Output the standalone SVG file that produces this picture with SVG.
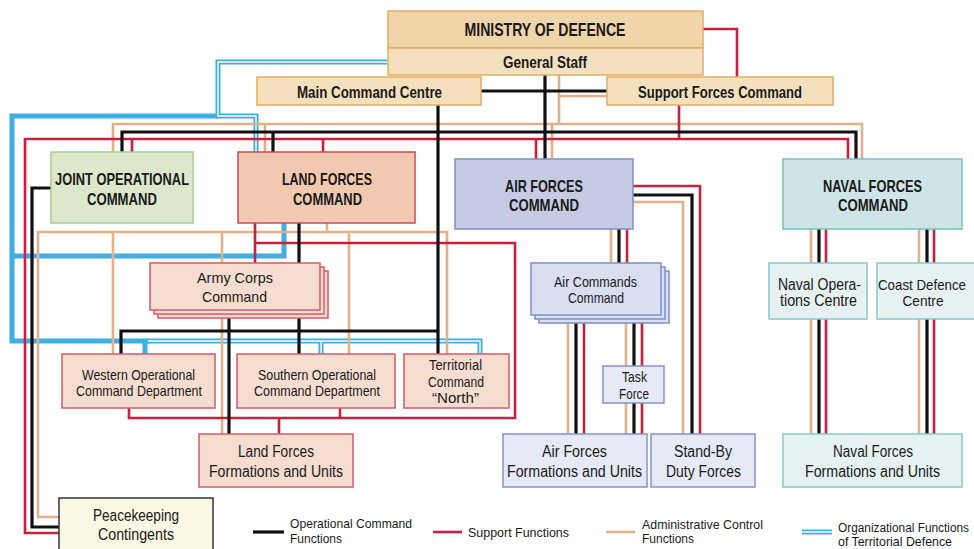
<svg xmlns="http://www.w3.org/2000/svg" width="974" height="549" viewBox="0 0 974 549">
<style>
text{font-family:"Liberation Sans Narrow","Liberation Sans",Arial,sans-serif;fill:#1a1a1a;text-anchor:middle}
.b{font-weight:bold}
.lg{text-anchor:start;font-size:13.5px}
path{fill:none;stroke-linejoin:miter;stroke-linecap:butt}
.k{stroke:#111;stroke-width:3.2}
.r{stroke:#c8203e;stroke-width:2.6}
.t{stroke:#e3b08c;stroke-width:2.6}
.bl{stroke:#3eaee4;stroke-width:5}
.bi{stroke:#ffffff;stroke-width:1.4}
.mod{fill:#f0d5aa;stroke:#e4ad66;stroke-width:1.5}
.gs{fill:#f5e0be;stroke:#e4ad66;stroke-width:1.5}
.joc{fill:#dce7cc;stroke:#a8cd90;stroke-width:1.5}
.lfc{fill:#f1c9b0;stroke:#d44656;stroke-width:1.5}
.land{fill:#f6ddcf;stroke:#d65a6a;stroke-width:1.5}
.afc{fill:#c6cbe3;stroke:#7d8ec6;stroke-width:1.5}
.air{fill:#dadef1;stroke:#7d8ec6;stroke-width:1.5}
.air2{fill:#e6e9f6;stroke:#8494ca;stroke-width:1.5}
.nfc{fill:#cfe4e6;stroke:#79c0c2;stroke-width:1.5}
.nav{fill:#e6f1f2;stroke:#86c8ca;stroke-width:1.5}
.pk{fill:#fbf8e3;stroke:#333;stroke-width:1.5}
</style>

<g id="connectors">
  <!-- blue: organizational functions of territorial defence -->
  <path class="bl" d="M218,116 H12 V341 H150"/>
  <path class="bl" d="M12,256 H284 V223"/>
  <path class="bl" d="M145,341 V354"/>
  <path class="bl" d="M387,62 H218 V116 H256 V152"/>
  <path class="bi" d="M387,62 H218 V116 H256 V152"/>
  <path class="bl" d="M148,341 H480 V354 M321,341 V354"/>
  <path class="bi" d="M148,341 H480 V354 M321,341 V354"/>

  <!-- tan: administrative control -->
  <path class="t" d="M559,75 V124 M559,96 H607"/>
  <path class="t" d="M113,152 V124 H862 V159"/>
  <path class="t" d="M265,124 V152 M552,124 V159"/>
  <path class="t" d="M327,223 V232"/>
  <path class="t" d="M59,517 H38 V232 H447 V354"/>
  <path class="t" d="M113,232 V354 M222,232 V434 M349,232 V354"/>
  <path class="t" d="M633,202 H683 V434"/>
  <path class="t" d="M611,229 V263 M568,323 V434 M626,323 V434"/>
  <path class="t" d="M811,229 V434 M919,229 V434"/>

  <!-- red: support functions -->
  <path class="r" d="M703,29 H737 V77"/>
  <path class="r" d="M679,105 V139"/>
  <path class="r" d="M59,533 H25 V139 H848 V159"/>
  <path class="r" d="M132,139 V152 M323,139 V152 M536,139 V159"/>
  <path class="r" d="M255,223 V263"/>
  <path class="r" d="M255,243 H515 V418 H129 V408"/>
  <path class="r" d="M340,408 V418 M279,418 V434"/>
  <path class="r" d="M633,186 H700 V434"/>
  <path class="r" d="M627,229 V263 M584,323 V434 M642,323 V434"/>
  <path class="r" d="M826,229 V434 M934,229 V434"/>

  <!-- black: operational command -->
  <path class="k" d="M122,152 V132 H856 V159"/>
  <path class="k" d="M273,132 V152"/>
  <path class="k" d="M545,75 V159"/>
  <path class="k" d="M481,91 H607"/>
  <path class="k" d="M438,105 V354"/>
  <path class="k" d="M121,354 V331 H438"/>
  <path class="k" d="M299,223 V263 M299,318 V354"/>
  <path class="k" d="M229,318 V434"/>
  <path class="k" d="M51,188 H32 V527 H59"/>
  <path class="k" d="M633,195 H692 V434"/>
  <path class="k" d="M619,229 V263 M576,323 V434 M634,323 V434"/>
  <path class="k" d="M819,229 V434 M927,229 V434"/>
</g>

<g id="ministry">
  <rect class="mod" x="388" y="11" width="315" height="37"/>
  <text class="b" x="545" y="36" font-size="18" textLength="161" lengthAdjust="spacingAndGlyphs">MINISTRY OF DEFENCE</text>
</g>
<g id="general-staff">
  <rect class="gs" x="388" y="48" width="315" height="27"/>
  <text class="b" x="545" y="68" font-size="16" textLength="84" lengthAdjust="spacingAndGlyphs">General Staff</text>
</g>
<g id="main-command-centre">
  <rect class="gs" x="257" y="77" width="224" height="28"/>
  <text class="b" x="369.5" y="98" font-size="16" textLength="145" lengthAdjust="spacingAndGlyphs">Main Command Centre</text>
</g>
<g id="support-forces-command">
  <rect class="gs" x="607" y="77" width="226" height="28"/>
  <text class="b" x="720" y="98" font-size="16" textLength="164" lengthAdjust="spacingAndGlyphs">Support Forces Command</text>
</g>

<g id="joint-operational-command">
  <rect class="joc" x="51" y="152" width="142" height="71"/>
  <text class="b" x="122" y="185" font-size="17" textLength="134" lengthAdjust="spacingAndGlyphs">JOINT OPERATIONAL</text>
  <text class="b" x="122" y="205" font-size="17" textLength="70" lengthAdjust="spacingAndGlyphs">COMMAND</text>
</g>
<g id="land-forces-command">
  <rect class="lfc" x="238" y="152" width="177" height="71"/>
  <text class="b" x="327" y="185" font-size="17" textLength="90" lengthAdjust="spacingAndGlyphs">LAND FORCES</text>
  <text class="b" x="327.5" y="205" font-size="17" textLength="69" lengthAdjust="spacingAndGlyphs">COMMAND</text>
</g>
<g id="air-forces-command">
  <rect class="afc" x="455" y="159" width="178" height="70"/>
  <text class="b" x="544" y="192" font-size="17" textLength="78" lengthAdjust="spacingAndGlyphs">AIR FORCES</text>
  <text class="b" x="544" y="211" font-size="17" textLength="70" lengthAdjust="spacingAndGlyphs">COMMAND</text>
</g>
<g id="naval-forces-command">
  <rect class="nfc" x="783" y="159" width="179" height="70"/>
  <text class="b" x="872.5" y="192" font-size="17" textLength="99" lengthAdjust="spacingAndGlyphs">NAVAL FORCES</text>
  <text class="b" x="873" y="211" font-size="17" textLength="70" lengthAdjust="spacingAndGlyphs">COMMAND</text>
</g>

<g id="army-corps-command">
  <rect class="land" x="158" y="271" width="170" height="47"/>
  <rect class="land" x="154" y="267" width="170" height="47"/>
  <rect class="land" x="150" y="263" width="170" height="47"/>
  <text x="235" y="283" font-size="15" textLength="76" lengthAdjust="spacingAndGlyphs">Army Corps</text>
  <text x="234.5" y="302" font-size="15" textLength="65" lengthAdjust="spacingAndGlyphs">Command</text>
</g>
<g id="air-commands-command">
  <rect class="air" x="539" y="271" width="130" height="52"/>
  <rect class="air" x="535" y="267" width="130" height="52"/>
  <rect class="air" x="531" y="263" width="130" height="52"/>
  <text x="595.5" y="287" font-size="14.5" textLength="83" lengthAdjust="spacingAndGlyphs">Air Commands</text>
  <text x="596" y="303" font-size="14.5" textLength="56" lengthAdjust="spacingAndGlyphs">Command</text>
</g>
<g id="naval-operations-centre">
  <rect class="nav" x="769" y="263" width="98" height="56"/>
  <text x="819.5" y="290" font-size="16" textLength="83" lengthAdjust="spacingAndGlyphs">Naval Opera-</text>
  <text x="818.5" y="306" font-size="16" textLength="77" lengthAdjust="spacingAndGlyphs">tions Centre</text>
</g>
<g id="coast-defence-centre">
  <rect class="nav" x="877" y="263" width="100" height="56"/>
  <text x="922" y="290" font-size="14.2" textLength="88" lengthAdjust="spacingAndGlyphs">Coast Defence</text>
  <text x="923" y="306" font-size="15.5" textLength="41" lengthAdjust="spacingAndGlyphs">Centre</text>
</g>

<g id="western-operational-command-department">
  <rect class="land" x="62" y="354" width="153" height="54"/>
  <text x="138.5" y="380" font-size="14.5" textLength="113" lengthAdjust="spacingAndGlyphs">Western Operational</text>
  <text x="139" y="396" font-size="14.5" textLength="126" lengthAdjust="spacingAndGlyphs">Command Department</text>
</g>
<g id="southern-operational-command-department">
  <rect class="land" x="237" y="354" width="158" height="54"/>
  <text x="317" y="380" font-size="14.5" textLength="118" lengthAdjust="spacingAndGlyphs">Southern Operational</text>
  <text x="317" y="396" font-size="14.5" textLength="126" lengthAdjust="spacingAndGlyphs">Command Department</text>
</g>
<g id="territorial-command-north">
  <rect class="land" x="404" y="354" width="105" height="54"/>
  <text x="455.5" y="370" font-size="14.5" textLength="53" lengthAdjust="spacingAndGlyphs">Territorial</text>
  <text x="456" y="387" font-size="14.5" textLength="56" lengthAdjust="spacingAndGlyphs">Command</text>
  <text x="455.5" y="403" font-size="14.5" textLength="47" lengthAdjust="spacingAndGlyphs">“North”</text>
</g>
<g id="task-force">
  <rect class="air2" x="603" y="366" width="61" height="37"/>
  <text x="634.5" y="382" font-size="14" textLength="25" lengthAdjust="spacingAndGlyphs">Task</text>
  <text x="634" y="399" font-size="14" textLength="30" lengthAdjust="spacingAndGlyphs">Force</text>
</g>

<g id="land-forces-formations-and-units">
  <rect class="land" x="199" y="434" width="154" height="53"/>
  <text x="276" y="457" font-size="16" textLength="76" lengthAdjust="spacingAndGlyphs">Land Forces</text>
  <text x="276" y="477" font-size="16" textLength="134" lengthAdjust="spacingAndGlyphs">Formations and Units</text>
</g>
<g id="air-forces-formations-and-units">
  <rect class="air2" x="503" y="434" width="144" height="53"/>
  <text x="574.5" y="457" font-size="16" textLength="65" lengthAdjust="spacingAndGlyphs">Air Forces</text>
  <text x="574.5" y="477" font-size="16" textLength="135" lengthAdjust="spacingAndGlyphs">Formations and Units</text>
</g>
<g id="stand-by-duty-forces">
  <rect class="air2" x="651" y="434" width="104" height="53"/>
  <text x="703" y="457" font-size="16" textLength="58" lengthAdjust="spacingAndGlyphs">Stand-By</text>
  <text x="703.5" y="477" font-size="16" textLength="75" lengthAdjust="spacingAndGlyphs">Duty Forces</text>
</g>
<g id="naval-forces-formations-and-units">
  <rect class="nav" x="783" y="434" width="179" height="53"/>
  <text x="873" y="457" font-size="16" textLength="80" lengthAdjust="spacingAndGlyphs">Naval Forces</text>
  <text x="872.5" y="477" font-size="16" textLength="135" lengthAdjust="spacingAndGlyphs">Formations and Units</text>
</g>
<g id="peacekeeping-contingents">
  <rect class="pk" x="59" y="498" width="154" height="60"/>
  <text x="136" y="521" font-size="16" textLength="86" lengthAdjust="spacingAndGlyphs">Peacekeeping</text>
  <text x="136" y="540" font-size="16" textLength="76" lengthAdjust="spacingAndGlyphs">Contingents</text>
</g>

<g id="legend">
  <path class="k" d="M253,532 H284"/>
  <text class="lg" x="290" y="528" textLength="122" lengthAdjust="spacingAndGlyphs">Operational Command</text>
  <text class="lg" x="290" y="543" textLength="52" lengthAdjust="spacingAndGlyphs">Functions</text>
  <path class="r" d="M433,532 H462"/>
  <text class="lg" x="468" y="537" textLength="101" lengthAdjust="spacingAndGlyphs">Support Functions</text>
  <path class="t" d="M606,532 H635"/>
  <text class="lg" x="642" y="529" textLength="121" lengthAdjust="spacingAndGlyphs">Administrative Control</text>
  <text class="lg" x="642" y="543" textLength="52" lengthAdjust="spacingAndGlyphs">Functions</text>
  <path class="bl" d="M802,532 H832"/>
  <path class="bi" d="M802,532 H832"/>
  <text class="lg" x="838" y="532" font-size="12" style="font-size:12px" textLength="131" lengthAdjust="spacingAndGlyphs">Organizational Functions</text>
  <text class="lg" x="838" y="546" textLength="114" lengthAdjust="spacingAndGlyphs">of Territorial Defence</text>
</g>
</svg>
